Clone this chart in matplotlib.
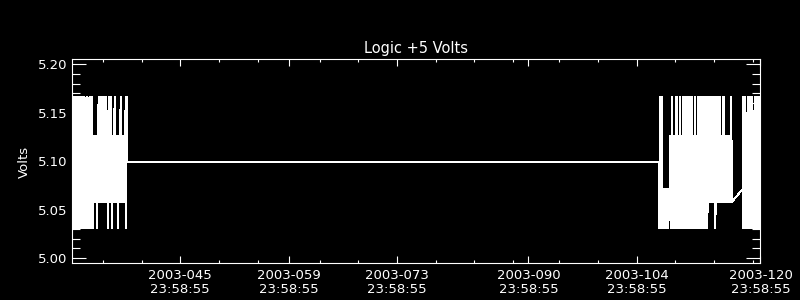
import numpy as np
import matplotlib
matplotlib.use("Agg")
import matplotlib.pyplot as plt

# quantised voltage steps seen on the plot (code -> volts)
levels = [5.031, 5.058, 5.0988, 5.126, 5.1665, 5.071]

# telemetry bursts: start day (2003 day-of-year) and one level code per sample,
# grouped in pairs so one group is about one pixel column
sample_step = 0.0647
burst_starts = [32.0, 107.87, 118.67]
burst_codes = [
    "04 04 04 04 04 04 04 04 04 04 04 "
    "04 04 03 04 04 03 04 03 04 03 "
    "03 13 13 13 03 14 14 13 14 13 14 14 14 13 13 04 13 14 13 03 "
    "13 14 13 13 13 03 13 14 13 13 13 13 14 04 2",
    "2 04 04 04 05 05 05 05 05 05 05 "
    "13 13 04 03 03 03 04 04 03 03 04 03 03 04 04 03 04 03 44 04 "
    "04 04 04 03 03 04 03 03 04 04 03 04 03 04 04 04 04 14 04 14 "
    "14 13 14 14 13 14 04 14 13 14 14 13 13 14 14 13 13 13 13 13 13 14 31",
    "5 04 04 04 03 03 04 04 04 04 04 03 03 04 04 04 14 04 14 4",
]

tick_days = [45.9992, 59.9992, 73.9992, 90.9992, 104.9992, 120.9992]
tick_labels = ["2003-045\n23:58:55", "2003-059\n23:58:55", "2003-073\n23:58:55",
               "2003-090\n23:58:55", "2003-104\n23:58:55", "2003-120\n23:58:55"]
minor_days = [36, 41, 51, 56, 64, 69, 79, 84, 89, 95, 100, 110, 115, 120]

t_all = []
v_all = []
for start, codes in zip(burst_starts, burst_codes):
    codes = codes.replace(" ", "")
    for i, c in enumerate(codes):
        t_all.append(start + i * sample_step)
        v_all.append(levels[int(c)])

plt.rcParams["font.family"] = "DejaVu Sans"
fig = plt.figure(figsize=(8, 3), dpi=100, facecolor="black")
ax = fig.add_axes([0.09, 0.1223, 0.8606, 0.68], facecolor="black")

ax.plot(t_all, v_all, color="white", lw=0.7, antialiased=False)

ax.set_xlim(32.0, 121.0)
ax.set_ylim(4.9945, 5.2052)
ax.set_xticks(tick_days)
ax.set_xticklabels(tick_labels, linespacing=1.15)
ax.set_xticks(minor_days, minor=True)
ax.set_yticks([5.00, 5.05, 5.10, 5.15, 5.20])
ax.set_yticklabels(["5.00", "5.05", "5.10", "5.15", "5.20"])
ax.set_yticks(np.arange(5.00, 5.2001, 0.01), minor=True)

for s in ax.spines.values():
    s.set_color("white")
    s.set_linewidth(0.8)

ax.tick_params(which="both", direction="in", top=True, right=True,
               colors="white", width=0.8, labelsize=9.5)
ax.tick_params(axis="x", which="major", length=5, pad=4)
ax.tick_params(axis="x", which="minor", length=2.5)
ax.tick_params(axis="y", which="major", length=10, pad=3.5)
ax.tick_params(axis="y", which="minor", length=5.5)

ax.set_title("Logic +5 Volts", color="white", fontsize=10.5, pad=4.5)
ax.set_ylabel("Volts", color="white", fontsize=9.5)
ax.yaxis.set_label_coords(-0.0604, 0.498)

fig.savefig("out.png", dpi=100, facecolor="black")
